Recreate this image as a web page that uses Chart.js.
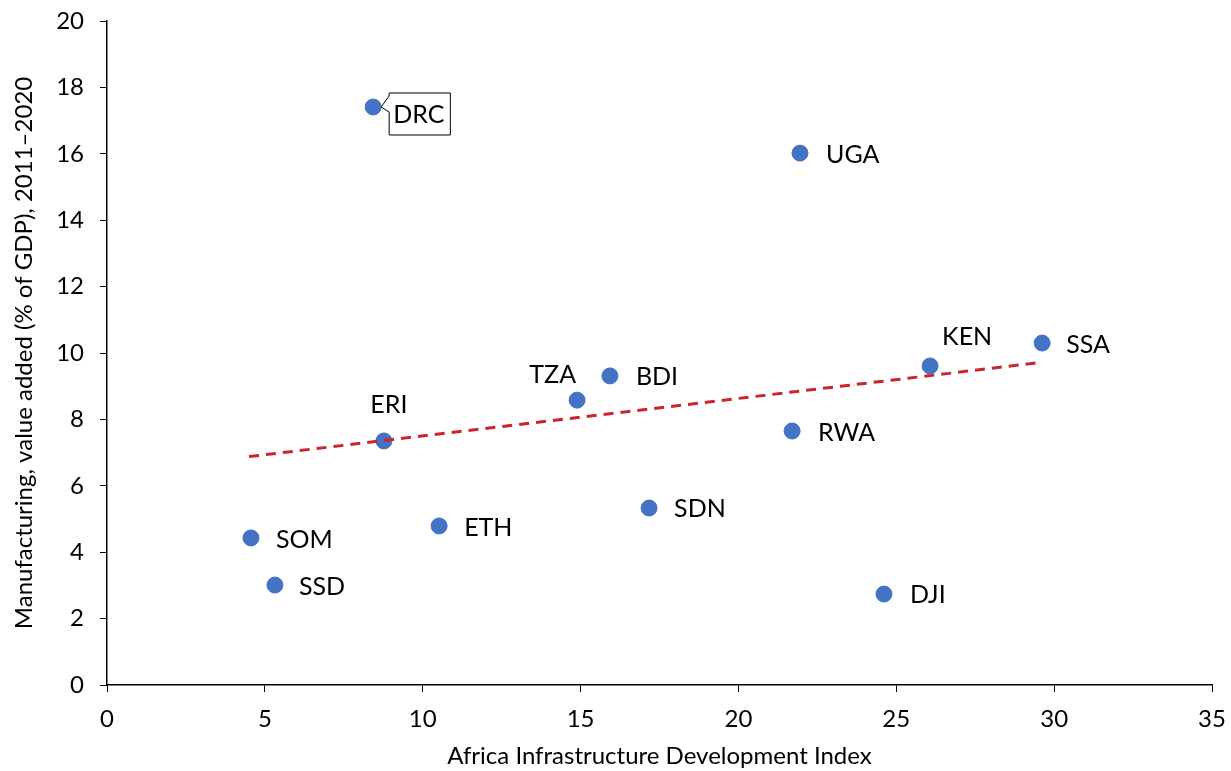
<!DOCTYPE html>
<html><head><meta charset="utf-8">
<script src="https://cdn.jsdelivr.net/npm/chart.js@4/dist/chart.umd.min.js"></script>
<style>html,body{margin:0;padding:0;background:#fff;}#wrap{width:1231px;height:771px;}</style>
</head><body><div id="wrap"><canvas id="c" width="1231" height="771"></canvas></div>
<script>
const countries = ["DRC","UGA","KEN","SSA","BDI","TZA","ERI","RWA","ETH","SDN","SOM","SSD","DJI"];
const aidiValues = [8.43, 21.95, 26.07, 29.62, 15.93, 14.89, 8.77, 21.70, 10.52, 17.17, 4.56, 5.32, 24.61];
const mfgValues = [17.41, 16.02, 9.61, 10.30, 9.31, 8.58, 7.35, 7.65, 4.79, 5.33, 4.43, 3.01, 2.74];
const trendX = [4.5, 29.62];
const trendY = [6.88, 9.72];
const xTicks = [0,5,10,15,20,25,30,35];
const yTicks = [0,2,4,6,8,10,12,14,16,18,20];

// label placement (style): dx, dy, align
const labelPos = {
  DRC:{box:true},
  UGA:{dx:26,dy:2,align:'left'},
  KEN:{dx:12,dy:-29,align:'left'},
  SSA:{dx:24,dy:2,align:'left'},
  BDI:{dx:26,dy:1,align:'left'},
  TZA:{dx:-1,dy:-25,align:'right'},
  ERI:{dx:5,dy:-36,align:'center'},
  RWA:{dx:26,dy:2,align:'left'},
  ETH:{dx:25,dy:2,align:'left'},
  SDN:{dx:25,dy:1,align:'left'},
  SOM:{dx:25,dy:2,align:'left'},
  SSD:{dx:24,dy:2,align:'left'},
  DJI:{dx:26,dy:1,align:'left'}
};
const FONT = "Lato, 'Open Sans', sans-serif";

const labelPlugin = {
  id:'labels',
  afterDatasetsDraw(chart){
    const ctx = chart.ctx;
    const xs = chart.scales.x, ys = chart.scales.y;
    ctx.save();
    ctx.font = "25px " + FONT;
    ctx.fillStyle = "#000";
    ctx.textBaseline = "middle";
    countries.forEach((c,i)=>{
      const px = xs.getPixelForValue(aidiValues[i]);
      const py = ys.getPixelForValue(mfgValues[i]);
      const p = labelPos[c];
      if (p.box){
        const w = ctx.measureText(c).width;
        const bx = px+16, by = py-14, bw = w+10, bh = 42;
        ctx.beginPath();
        ctx.moveTo(bx, by);
        ctx.lineTo(bx+bw, by);
        ctx.lineTo(bx+bw, by+bh);
        ctx.lineTo(bx, by+bh);
        ctx.lineTo(bx, py+5);
        ctx.lineTo(px+8, py);
        ctx.lineTo(bx, by+3);
        ctx.closePath();
        ctx.fillStyle = "#fff";
        ctx.fill();
        ctx.strokeStyle = "#000";
        ctx.lineWidth = 1;
        ctx.stroke();
        ctx.fillStyle = "#000";
        ctx.textAlign = "left";
        ctx.fillText(c, bx+4, by+bh/2+1);
      } else {
        ctx.textAlign = p.align;
        ctx.fillText(c, px+p.dx, py+p.dy);
      }
    });
    ctx.restore();
  }
};

const trendData = trendX.map((x,i)=>({x:x,y:trendY[i]}));
const pts = aidiValues.map((x,i)=>({x:x,y:mfgValues[i]}));

new Chart(document.getElementById('c'),{
  type:'scatter',
  data:{datasets:[
    {label:'trend',type:'line',data:trendData,borderColor:'#C8262C',borderWidth:3,borderDash:[10,7],pointRadius:0,fill:false,order:0},
    {label:'countries',data:pts,backgroundColor:'#4472C4',borderColor:'#4472C4',pointRadius:8,pointHoverRadius:8,order:1}
  ]},
  options:{
    responsive:false,animation:false,
    layout:{autoPadding:false,padding:{left:10,right:19,top:21,bottom:0}},
    plugins:{legend:{display:false},tooltip:{enabled:false}},
    scales:{
      x:{type:'linear',min:0,max:35,
        afterBuildTicks(s){s.ticks=xTicks.map(v=>({value:v}));},
        afterFit(s){s.height=86;s.paddingLeft=0;s.paddingRight=0;},
        grid:{drawOnChartArea:false,drawTicks:true,tickLength:7,color:'#000',tickColor:'#000'},
        border:{color:'#000',width:1.5},
        ticks:{color:'#000',font:{family:FONT,size:24},padding:13,maxRotation:0},
        title:{display:true,text:'Africa Infrastructure Development Index',color:'#000',font:{family:FONT,size:24},padding:{top:4,bottom:0}}
      },
      y:{type:'linear',min:0,max:20,
        afterBuildTicks(s){s.ticks=yTicks.map(v=>({value:v}));},
        afterFit(s){s.width=97;s.paddingTop=0;s.paddingBottom=0;},
        grid:{drawOnChartArea:false,drawTicks:true,tickLength:7,color:'#000',tickColor:'#000'},
        border:{color:'#000',width:1.5},
        ticks:{color:'#000',font:{family:FONT,size:24},padding:16},
        title:{display:true,text:'Manufacturing, value added (% of GDP), 2011\u20132020',color:'#000',font:{family:FONT,size:24},padding:{top:0,bottom:7}}
      }
    }
  },
  plugins:[labelPlugin]
});
</script></body></html>
